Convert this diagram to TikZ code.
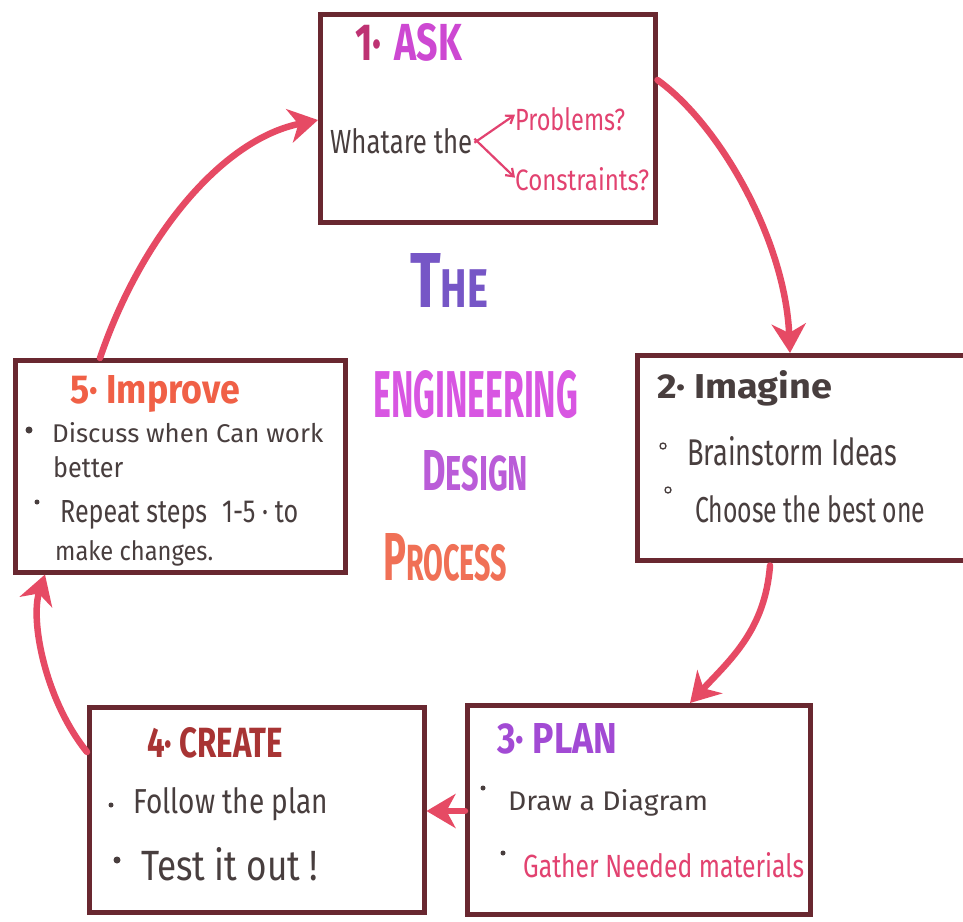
\documentclass[tikz,border=0pt]{standalone}
\usepackage{fontspec}
\setmainfont{Fira Sans}
\usepackage{graphicx}
\usetikzlibrary{arrows.meta}

% marker colours
\definecolor{frame}{RGB}{105,40,48}
\definecolor{flow}{RGB}{230,74,100}
\definecolor{ink}{RGB}{72,62,62}
\definecolor{askpink}{RGB}{205,72,210}
\definecolor{oneink}{RGB}{190,50,115}
\definecolor{rosy}{RGB}{226,66,112}
\definecolor{improveorange}{RGB}{240,96,70}
\definecolor{planpurple}{RGB}{162,74,212}
\definecolor{createred}{RGB}{168,52,52}
\definecolor{thepurple}{RGB}{118,86,198}
\definecolor{engmagenta}{RGB}{216,86,226}
\definecolor{designpurple}{RGB}{186,92,216}
\definecolor{processorange}{RGB}{240,112,86}

% squeeze a text into a given width and height (in pt)
\newcommand{\txtfit}[3]{\resizebox{#1pt}{#2pt}{#3}}

\tikzset{
  stagebox/.style={draw=frame, line width=4.5pt, fill=white, rectangle,
                   anchor=north west, inner sep=0pt},
  lbl/.style={inner sep=0pt, anchor=base west},
  flowarrow/.style={draw=flow, line width=6.5pt, line cap=round,
                    -{Stealth[length=29pt,width=34pt,inset=9pt]}},
  twig/.style={draw=rosy, line width=2.2pt,
               -{Straight Barb[length=7pt,width=10pt]}},
  opendot/.style={circle, draw=ink, line width=1.3pt, minimum size=6pt, inner sep=0pt},
  filldot/.style={circle, fill=ink, minimum size=7pt, inner sep=0pt},
  smalldot/.style={circle, fill=ink, minimum size=5pt, inner sep=0pt}
}

\begin{document}
\begin{tikzpicture}[x=1pt,y=-1pt]
\useasboundingbox (0,0) rectangle (963,921);
\fill[white] (0,0) rectangle (963,921);

% ---- the five stage boxes ----
\node[stagebox, minimum width=335pt, minimum height=208pt] (ask) at (318,12) {};
\node[stagebox, minimum width=332pt, minimum height=205pt] (imagine) at (635,353) {};
\node[stagebox, minimum width=343pt, minimum height=209pt] (plan) at (465,703) {};
\node[stagebox, minimum width=335pt, minimum height=205pt] (create) at (87,705) {};
\node[stagebox, minimum width=330pt, minimum height=212pt] (improve) at (13,358) {};

% ---- 1. Ask ----
\node[lbl, text=askpink, font=\bfseries] (askt) at (355,60)
  {\txtfit{107}{37}{\textcolor{oneink}{1·}\hspace{0.35em}ASK}};
\node[lbl, text=ink] (whatare) at (330,153) {\txtfit{142}{25}{Whatare the}};
\node[lbl, text=rosy] (prob) at (515,130) {\txtfit{110}{23}{Problems?}};
\node[lbl, text=rosy] (cons) at (515,190) {\txtfit{134}{23}{Constraints?}};
\draw[twig] ([xshift=2pt,yshift=-2pt]whatare.east) -- ([yshift=4pt]prob.west);
\draw[twig] ([xshift=2pt,yshift=2pt]whatare.east) -- ([yshift=1pt]cons.west);

% ---- 2. Imagine ----
\node[lbl, text=ink, font=\bfseries] (imt) at (657,398) {\txtfit{175}{28}{2· Imagine}};
\node[opendot] (imb1) at (663,446) {};
\node[lbl, text=ink] (im1) at (687,465) {\txtfit{210}{29}{Brainstorm Ideas}};
\node[opendot] (imb2) at (668,490) {};
\node[lbl, text=ink] (im2) at (695,522) {\txtfit{230}{27}{Choose the best one}};

% ---- 3. Plan ----
\node[lbl, text=planpurple, font=\bfseries] (plt) at (497,753) {\txtfit{120}{30}{3· PLAN}};
\node[smalldot] (plb1) at (483,788) {};
\node[lbl, text=ink] (pl1) at (508,810) {\txtfit{200}{21}{Draw a Diagram}};
\node[smalldot] (plb2) at (503,853) {};
\node[lbl, text=rosy] (pl2) at (523,877) {\txtfit{281}{25}{Gather Needed materials}};

% ---- 4. Create ----
\node[lbl, text=createred, font=\bfseries] (crt) at (147,757) {\txtfit{136}{30}{4· CREATE}};
\node[smalldot] (crb1) at (111,805) {};
\node[lbl, text=ink] (cr1) at (133,813) {\txtfit{195}{26}{Follow the plan}};
\node[filldot] (crb2) at (117,860) {};
\node[lbl, text=ink] (cr2) at (141,880) {\txtfit{177}{33}{Test it out !}};

% ---- 5. Improve ----
\node[lbl, text=improveorange, font=\bfseries] (ipt) at (70,403) {\txtfit{170}{28}{5· Improve}};
\node[filldot] (ipb1) at (29,430) {};
\node[lbl, text=ink] (ip1) at (52,442) {\txtfit{271}{20}{Discuss when Can work}};
\node[lbl, text=ink] (ip1b) at (53,477) {\txtfit{70}{21}{better}};
\node[smalldot] (ipb2) at (37,502) {};
\node[lbl, text=ink] (ip2) at (60,522) {\txtfit{238}{22}{Repeat steps\hspace{0.6em}1-5 · to}};
\node[lbl, text=ink] (ip2b) at (55,560) {\txtfit{158}{20}{make changes.}};

% ---- centre title ----
\node[lbl, text=thepurple, font=\bfseries] (the) at (410,307)
  {\txtfit{78}{54}{T\fontsize{7pt}{8pt}\selectfont HE}};
\node[lbl, text=engmagenta, font=\bfseries] (eng) at (373,417)
  {\txtfit{205}{47}{ENGINEERING}};
\node[lbl, text=designpurple, font=\bfseries] (design) at (422,490)
  {\txtfit{106}{40}{D\fontsize{8.5pt}{9pt}\selectfont ESIGN}};
\node[lbl, text=processorange, font=\bfseries] (process) at (383,580)
  {\txtfit{124}{47}{P\fontsize{7.5pt}{8pt}\selectfont ROCESS}};

% ---- the cycle of arrows ----
\draw[flowarrow] ([yshift=-68pt]ask.north east)
  .. controls (720,125) and (785,240) .. ([xshift=155pt]imagine.north west);
\draw[flowarrow] ([xshift=135pt,yshift=-3pt]imagine.south west)
  .. controls (765,630) and (730,660) .. ([xshift=225pt]plan.north west);
\draw[flowarrow] ([yshift=-108pt]plan.north west) -- ([yshift=-106pt]create.north east);
\draw[flowarrow] ([yshift=-47pt]create.north west)
  .. controls (45,700) and (30,620) .. ([xshift=32pt]improve.south west);
\draw[flowarrow] ([xshift=87pt]improve.north west)
  .. controls (140,240) and (220,140) .. ([yshift=-108pt]ask.north west);
\end{tikzpicture}
\end{document}
